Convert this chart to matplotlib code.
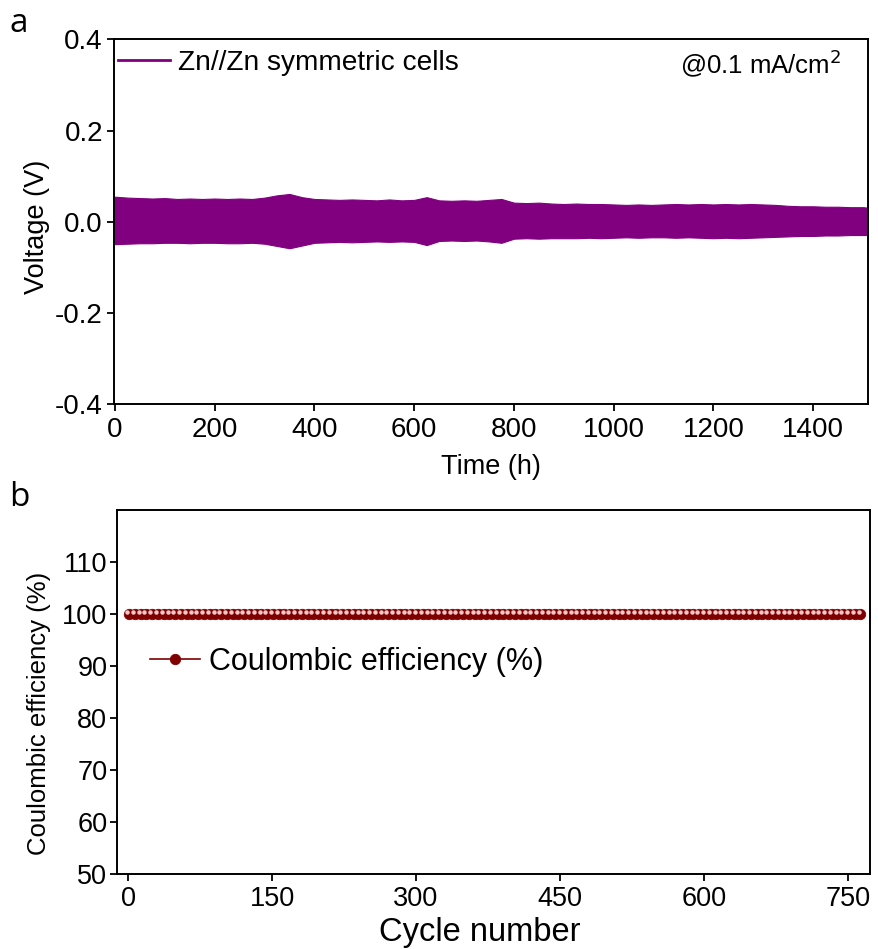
import matplotlib
matplotlib.use("Agg")
import matplotlib.pyplot as plt
from matplotlib.lines import Line2D
import matplotlib.transforms as mtransforms

plt.rcParams['font.family'] = ['Liberation Sans', 'DejaVu Sans']

# ---- Panel a: voltage envelope ----
time_h = list(range(0, 1501, 25)) + [1510]
v_upper = [0.055, 0.053, 0.052, 0.051, 0.052, 0.050, 0.051, 0.050, 0.051, 0.050,
           0.051, 0.050, 0.053, 0.058, 0.061, 0.054, 0.050, 0.049, 0.048, 0.049,
           0.048, 0.047, 0.049, 0.047, 0.048, 0.054, 0.047, 0.046, 0.047, 0.046,
           0.048, 0.050, 0.042, 0.041, 0.042, 0.040, 0.039, 0.040, 0.039, 0.039,
           0.038, 0.037, 0.038, 0.037, 0.038, 0.039, 0.038, 0.039, 0.038, 0.039,
           0.038, 0.039, 0.038, 0.037, 0.035, 0.034, 0.034, 0.033, 0.033, 0.032,
           0.032, 0.031]
v_lower = [-0.049, -0.048, -0.047, -0.047, -0.046, -0.046, -0.047, -0.046, -0.046, -0.047,
           -0.047, -0.046, -0.048, -0.053, -0.058, -0.052, -0.046, -0.045, -0.044, -0.045,
           -0.044, -0.043, -0.044, -0.043, -0.044, -0.051, -0.042, -0.041, -0.042, -0.041,
           -0.043, -0.046, -0.037, -0.036, -0.037, -0.036, -0.036, -0.036, -0.035, -0.036,
           -0.035, -0.034, -0.035, -0.034, -0.034, -0.035, -0.034, -0.035, -0.036, -0.035,
           -0.036, -0.035, -0.034, -0.033, -0.032, -0.031, -0.031, -0.030, -0.030, -0.029,
           -0.029, -0.029]
x_ticks_a = [0, 200, 400, 600, 800, 1000, 1200, 1400]
y_ticks_a = [-0.4, -0.2, 0.0, 0.2, 0.4]

# ---- Panel b: coulombic efficiency ----
cycles = list(range(1, 769, 6))
ce = [100.0] * len(cycles)
x_ticks_b = [0, 150, 300, 450, 600, 750]
y_ticks_b = [50, 60, 70, 80, 90, 100, 110]

W, H = 879, 949
fig = plt.figure(figsize=(W / 100, H / 100), dpi=100)

def box(l, t, r, b):
    return [l / W, 1 - b / H, (r - l) / W, (b - t) / H]

ax1 = fig.add_axes(box(114, 39.3, 868, 404.3))
ax2 = fig.add_axes(box(117, 510, 870, 874))

purple = '#800080'
dred = '#800000'

for ax in (ax1, ax2):
    for s in ax.spines.values():
        s.set_linewidth(1.4)
    ax.tick_params(direction='out', length=5, width=1.3, top=False, right=False)
ax1.tick_params(labelsize=20)
ax1.tick_params(axis='x', pad=4)
ax1.tick_params(axis='y', pad=3)
ax2.tick_params(labelsize=19.5)
ax2.tick_params(axis='y', pad=2)

# Panel a
ax1.fill_between(time_h, v_lower, v_upper, color=purple, linewidth=0.8, edgecolor=purple)
ax1.set_xlim(-2, 1510)
ax1.set_ylim(-0.4, 0.4)
ax1.set_xticks(x_ticks_a)
ax1.set_yticks(y_ticks_a)
ax1.set_yticklabels([f"{v:.1f}" for v in y_ticks_a])
ax1.set_xlabel('Time (h)', fontsize=19.5, labelpad=8)
ax1.set_ylabel('Voltage (V)', fontsize=19.5)
ax1.yaxis.set_label_coords(-0.085, 0.486)
h1 = Line2D([], [], color=purple, linewidth=2)
ax1.legend([h1], ['Zn//Zn symmetric cells'], loc='center left',
           bbox_to_anchor=(-0.009, 0.935), frameon=False, fontsize=20.2,
           handlelength=1.85, handletextpad=0.28, borderaxespad=0)
ax1.text(0.965, 0.935, '@0.1 mA/cm$^2$', transform=ax1.transAxes,
         ha='right', va='center', fontsize=18.5)

# Panel b
ax2.plot(cycles, ce, color=dred, linewidth=1.2, marker='o', markersize=7.5,
         markerfacecolor=dred, markeredgecolor=dred, markeredgewidth=0.6,
         label='Coulombic efficiency (%)', zorder=3)
off = mtransforms.ScaledTranslation(-1.3 / 72, 1.3 / 72, fig.dpi_scale_trans)
ax2.plot(cycles, ce, linestyle='none', marker='o', markersize=2.2,
         color='#f2c8c8', transform=ax2.transData + off, zorder=4)
ax2.set_xlim(-11.5, 773)
ax2.set_ylim(50, 120)
ax2.set_xticks(x_ticks_b)
ax2.set_yticks(y_ticks_b)
ax2.set_xlabel('Cycle number', fontsize=23.5)
ax2.xaxis.set_label_coords(0.482, -0.118)
ax2.set_ylabel('Coulombic efficiency (%)', fontsize=18.5)
ax2.yaxis.set_label_coords(-0.087, 0.44)
ax2.legend(loc='center left', bbox_to_anchor=(0.028, 0.582), frameon=False,
           fontsize=22, handlelength=1.64, handletextpad=0.28, borderaxespad=0)

fig.text(19 / W, 1 - 23 / H, 'a', fontsize=24, ha='center', va='center',
         family=['Open Sans', 'DejaVu Sans'])
fig.text(19 / W, 1 - 497 / H, 'b', fontsize=24, ha='center', va='center',
         family=['Open Sans', 'DejaVu Sans'])

fig.savefig('out.png', dpi=100)
